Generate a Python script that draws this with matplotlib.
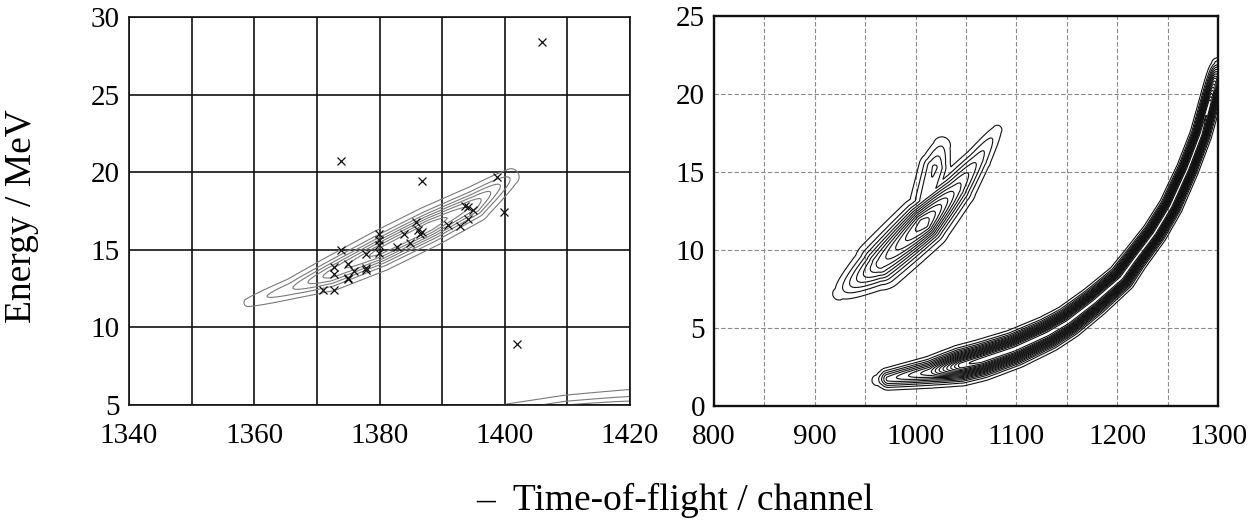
import numpy as np
import matplotlib
matplotlib.use("Agg")
import matplotlib.pyplot as plt
from matplotlib.ticker import MultipleLocator

plt.rcParams['font.family'] = ['Liberation Serif', 'DejaVu Serif']
plt.rcParams['mathtext.fontset'] = 'stix'

# ---------------- data ----------------
# left panel: individual events (x = -TOF channel, y = energy / MeV)
events_x = [1373.9, 1386.8, 1398.8, 1406.0, 1402.0, 1399.9, 1393.7, 1394.2, 1394.9,
            1394.1, 1392.9, 1390.9, 1385.9, 1386.1, 1386.8, 1386.4, 1383.9, 1384.9,
            1382.8, 1379.9, 1379.9, 1379.9, 1379.9, 1373.9, 1377.8, 1377.8, 1377.9,
            1374.9, 1376.0, 1374.9, 1375.0, 1372.8, 1372.8, 1370.9, 1372.8]
events_e = [20.75, 19.46, 19.70, 28.37, 8.95, 17.46, 17.85, 17.75, 17.55,
            16.96, 16.55, 16.57, 16.80, 16.27, 16.16, 16.05, 16.01, 15.45,
            15.15, 16.00, 15.60, 15.30, 14.80, 15.00, 14.70, 13.73, 13.85,
            14.10, 13.64, 13.10, 13.20, 13.86, 13.43, 12.43, 12.43]

# left panel: simulated distribution ridge (centre line, relative height, width in px)
lsim_x = [1359, 1366, 1372, 1380, 1388, 1395, 1401]
lsim_e = [11.6, 12.5, 13.4, 14.9, 16.5, 17.9, 19.7]
lsim_h = [0.12, 0.35, 0.70, 0.95, 1.00, 0.75, 0.20]
lsim_w = [4.5, 6.0, 8.0, 9.0, 9.0, 8.5, 6.0]

# left panel: second band entering at the lower right
lsim2_x = [1398, 1410, 1422]
lsim2_e = [3.2, 3.9, 4.5]
lsim2_h = [0.9, 1.0, 0.6]
lsim2_w = [12.0, 12.0, 12.0]

# right panel: main band (centre line)
band_x = [962, 973, 1015, 1045, 1065, 1098, 1131, 1151, 1177, 1204, 1217, 1237,
          1253, 1270, 1283, 1292, 1297, 1300]
band_e = [1.65, 1.74, 2.17, 2.60, 2.93, 3.65, 4.62, 5.38, 6.68, 8.20, 9.36, 11.07,
          12.78, 15.20, 17.40, 19.50, 20.90, 21.90]
band_h = [0.08, 0.30, 0.50, 0.95, 1.0, 1.0, 1.0, 1.0, 1.0, 1.0, 1.0, 1.0,
          1.0, 1.0, 1.0, 0.95, 0.55, 0.15]
band_w = [5.5, 6.0, 7.5, 8.5, 8.5, 8.0, 7.5, 7.0, 6.5, 6.0, 5.5, 5.2,
          4.9, 4.6, 4.5, 4.5, 4.5, 4.5]

# right panel: upper blob (centre line)
blob_x = [924, 965, 1008, 1040, 1062, 1081]
blob_e = [7.2, 9.1, 11.7, 13.9, 15.8, 17.7]
blob_h = [0.10, 0.62, 1.00, 0.55, 0.30, 0.10]
blob_w = [7.5, 12.5, 12.0, 10.0, 7.5, 5.5]
# side lobe of the blob
lobe_x = [1010, 1019, 1026]
lobe_e = [13.2, 15.3, 16.7]
lobe_h = [0.30, 0.34, 0.15]
lobe_w = [9.0, 9.0, 7.0]

left_levels = [0.08, 0.22, 0.36, 0.50, 0.64, 0.78, 0.90]
band_levels = list(np.linspace(0.05, 0.97, 17))
blob_levels = list(np.linspace(0.07, 0.93, 11))


# ---------------- helpers ----------------
def ridge(X, Y, xs, es, hs, ws, sx, sy):
    """density ridge along a polyline, computed in pixel-like units"""
    U, V = X * sx, Y * sy
    pu, pv = np.asarray(xs) * sx, np.asarray(es) * sy
    Z = np.zeros_like(X)
    for i in range(len(xs) - 1):
        du, dv = pu[i + 1] - pu[i], pv[i + 1] - pv[i]
        L2 = du * du + dv * dv
        t = np.clip(((U - pu[i]) * du + (V - pv[i]) * dv) / L2, 0, 1)
        d2 = (U - pu[i] - t * du) ** 2 + (V - pv[i] - t * dv) ** 2
        h = hs[i] + t * (hs[i + 1] - hs[i])
        w = ws[i] + t * (ws[i + 1] - ws[i])
        Z = np.maximum(Z, h * np.exp(-d2 / (2 * w * w)))
    return Z


# ---------------- figure ----------------
fig = plt.figure(figsize=(12.57, 5.27), dpi=100)
W, H = 1257, 527
axL = fig.add_axes([129 / W, (H - 405) / H, (630 - 129) / W, (405 - 17) / H])
axR = fig.add_axes([714 / W, (H - 406) / H, (1218 - 714) / W, (406 - 16) / H])

FS = 21

# left panel
XL, YL = np.meshgrid(np.linspace(1335, 1425, 700), np.linspace(0, 32, 500))
ZL = np.maximum(ridge(XL, YL, lsim_x, lsim_e, lsim_h, lsim_w, 6.26, 15.52),
                ridge(XL, YL, lsim2_x, lsim2_e, lsim2_h, lsim2_w, 6.26, 15.52))
axL.contour(XL, YL, ZL, levels=left_levels, colors='#7a7a7a', linewidths=0.8)
axL.plot(events_x, events_e, linestyle='none', marker='x', color='#111111',
         markersize=5.5, markeredgewidth=0.9, zorder=5)
axL.set_xlim(1340, 1420)
axL.set_ylim(5, 30)
axL.xaxis.set_major_locator(MultipleLocator(20))
axL.xaxis.set_minor_locator(MultipleLocator(10))
axL.yaxis.set_major_locator(MultipleLocator(5))
axL.grid(which='both', color='#111111', linewidth=1.2, linestyle='-')
axL.set_axisbelow(True)
for s in axL.spines.values():
    s.set_linewidth(1.2)
    s.set_color('#111111')
axL.tick_params(which='both', length=0, labelsize=FS)
axL.tick_params(axis='x', pad=13)
axL.tick_params(axis='y', pad=6.5)

# right panel
XR, YR = np.meshgrid(np.linspace(790, 1310, 1000), np.linspace(-1, 27, 800))
ZB = ridge(XR, YR, band_x, band_e, band_h, band_w, 1.01, 15.6)
ZO = np.maximum(ridge(XR, YR, blob_x, blob_e, blob_h, blob_w, 1.01, 15.6),
                ridge(XR, YR, lobe_x, lobe_e, lobe_h, lobe_w, 1.01, 15.6))
axR.contour(XR, YR, ZB, levels=band_levels, colors='#111111', linewidths=0.8)
axR.contour(XR, YR, ZO, levels=blob_levels, colors='#111111', linewidths=0.8)
axR.set_xlim(800, 1300)
axR.set_ylim(0, 25)
axR.xaxis.set_major_locator(MultipleLocator(100))
axR.xaxis.set_minor_locator(MultipleLocator(50))
axR.yaxis.set_major_locator(MultipleLocator(5))
axR.grid(which='both', color='#8a8a8a', linewidth=0.8, linestyle=(0, (4, 2)))
axR.set_axisbelow(True)
for s in axR.spines.values():
    s.set_linewidth(1.7)
    s.set_color('#111111')
axR.tick_params(which='both', length=0, labelsize=FS)
axR.tick_params(axis='x', pad=13)
axR.tick_params(axis='y', pad=6.5)

fig.text(22 / W, 0.59, 'Energy / MeV', rotation=90, ha='center', va='center',
         fontsize=27)
fig.text(675 / W, (H - 500) / H, '\u2013  Time-of-flight / channel', ha='center',
         va='center', fontsize=27)

fig.savefig('out.png', dpi=100)
